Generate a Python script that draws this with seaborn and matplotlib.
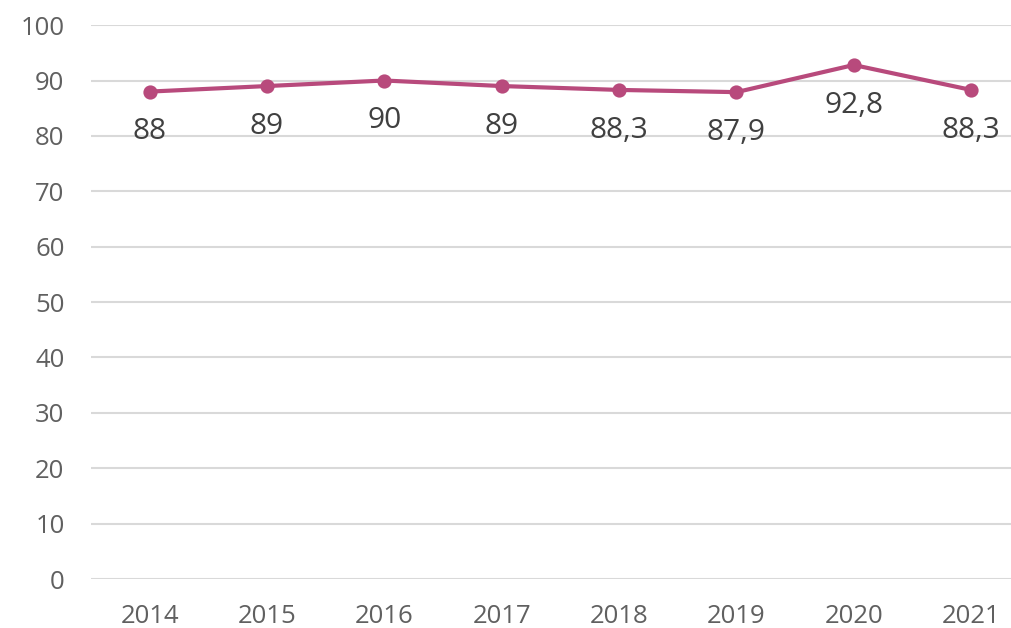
import matplotlib
matplotlib.use("Agg")
import matplotlib.pyplot as plt
import seaborn as sns
import pandas as pd

years = ["2014", "2015", "2016", "2017", "2018", "2019", "2020", "2021"]
values = [88, 89, 90, 89, 88.3, 87.9, 92.8, 88.3]
labels = ["88", "89", "90", "89", "88,3", "87,9", "92,8", "88,3"]
yticks = [0, 10, 20, 30, 40, 50, 60, 70, 80, 90, 100]

line_color = "#B84A7C"
text_color = "#606060"
grid_color = "#D9D9D9"

sns.set_theme(style="white")
plt.rcParams["font.family"] = ["Open Sans", "DejaVu Sans"]

df = pd.DataFrame({"year": years, "value": values})

fig = plt.figure(figsize=(10.11, 6.28), dpi=100)
ax = fig.add_axes([0.09, 0.078, 0.91, 0.882])

sns.pointplot(data=df, x="year", y="value", color=line_color,
              markers="o", markersize=8, linewidth=3, ax=ax)

for i, (v, lab) in enumerate(zip(values, labels)):
    ax.annotate(lab, (i, v), xytext=(0, -29), textcoords="offset points",
                ha="center", va="center", fontsize=21.5, color="#404040")

ax.set_ylim(0, 100)
ax.set_xlim(-0.5, 7.34)
ax.set_yticks(yticks)
ax.set_yticklabels([str(t) for t in yticks])
ax.yaxis.grid(True, color=grid_color, linewidth=1.5)
ax.set_axisbelow(True)
for s in ax.spines.values():
    s.set_visible(False)
ax.tick_params(axis="y", length=0, pad=19, labelsize=18.5, labelcolor=text_color)
ax.tick_params(axis="x", length=0, pad=18, labelsize=18.5, labelcolor=text_color)
ax.set_xlabel("")
ax.set_ylabel("")

fig.savefig("out.png", dpi=100)
